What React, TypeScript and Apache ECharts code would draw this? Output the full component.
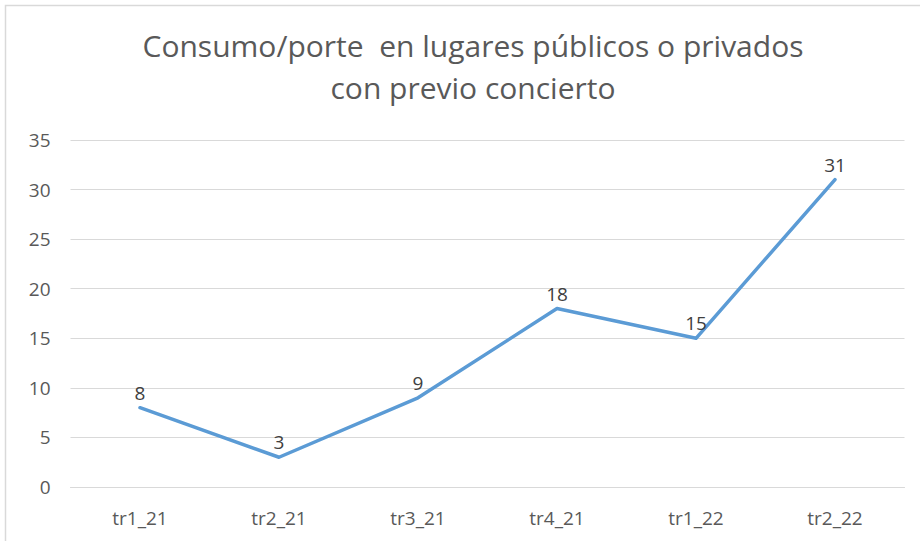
import React, { useEffect, useRef } from "react";
import * as echarts from "echarts";

const categories = ["tr1_21", "tr2_21", "tr3_21", "tr4_21", "tr1_22", "tr2_22"];
const values = [8, 3, 9, 18, 15, 31];
const titleText = "Consumo/porte  en lugares públicos o privados\ncon previo concierto";

export default function App() {
  const ref = useRef<HTMLDivElement>(null);
  useEffect(() => {
    if (!ref.current) return;
    const chart = echarts.init(ref.current, null, { renderer: "svg" });
    const font = "'Open Sans', 'Noto Sans', sans-serif";
    chart.setOption({
      animation: false,
      backgroundColor: "#ffffff",
      title: {
        text: titleText,
        left: 468,
        top: 19,
        textAlign: "center",
        textStyle: {
          fontFamily: font,
          fontSize: 30,
          fontWeight: "normal",
          color: "#595959",
          lineHeight: 42,
        },
      },
      graphic: [
        {
          type: "rect",
          shape: { x: 5.5, y: 5.5, width: 1000, height: 1000 },
          style: { fill: "none", stroke: "#d9d9d9", lineWidth: 1.5 },
          silent: true,
        },
      ],
      grid: { left: 70.5, right: 15.5, top: 140, bottom: 54 },
      xAxis: {
        type: "category",
        data: categories,
        boundaryGap: true,
        axisLine: { show: true, lineStyle: { color: "#d9d9d9", width: 1 } },
        axisTick: { show: false },
        axisLabel: { fontFamily: font, fontSize: 19, color: "#595959", margin: 21 },
      },
      yAxis: {
        type: "value",
        min: 0,
        max: 35,
        interval: 5,
        axisLine: { show: false },
        axisTick: { show: false },
        splitLine: { lineStyle: { color: "#d9d9d9", width: 1 } },
        axisLabel: { fontFamily: font, fontSize: 19, color: "#595959", margin: 20 },
      },
      series: [
        {
          type: "line",
          data: values,
          symbol: "circle",
          symbolSize: 1,
          showSymbol: true,
          itemStyle: { color: "rgba(91,155,213,0)", borderWidth: 0 },
          lineStyle: { color: "#5b9bd5", width: 3.5, cap: "round", join: "round" },
          label: {
            show: true,
            position: "top",
            distance: 5,
            fontFamily: font,
            fontSize: 19,
            color: "#404040",
          },
        },
      ],
    });
    return () => chart.dispose();
  }, []);
  return (
    <div
      ref={ref}
      style={{ position: "fixed", left: 0, top: 0, width: 920, height: 541 }}
    />
  );
}
